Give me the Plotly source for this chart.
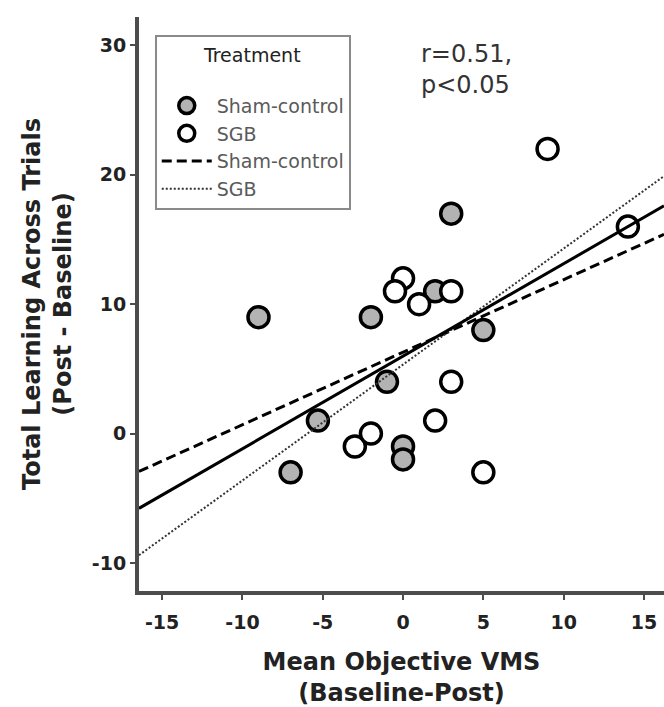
import plotly.graph_objects as go

# ---- data ----
sham_x = [-9, -2, -1, -5.3, -7, 2, 5, 3, 0, 0]
sham_y = [9, 9, 4, 1, -3, 11, 8, 17, -1, -2]
sgb_x = [0, -0.5, 3, 1, 3, 2, 5, 9, 14, -3, -2]
sgb_y = [12, 11, 11, 10, 4, 1, -3, 22, 16, -1, 0]

fit_x = [-16.44, 16.25]
fit_all_y = [-5.78, 17.6]
fit_sham_y = [-2.93, 15.4]
fit_sgb_y = [-9.4, 19.9]

x_ticks = [-15, -10, -5, 0, 5, 10, 15]
y_ticks = [-10, 0, 10, 20, 30]
x_range = [-16.44, 16.25]
y_range = [-12.17, 32.2]

FONT = "DejaVu Sans"
AX = "#4d4d4d"

fig = go.Figure()

fig.add_trace(go.Scatter(
    x=sham_x, y=sham_y, mode="markers", name="Sham-control",
    marker=dict(size=21, color="#b3b3b3", line=dict(color="black", width=3.5)),
))
fig.add_trace(go.Scatter(
    x=sgb_x, y=sgb_y, mode="markers", name="SGB",
    marker=dict(size=21, color="white", line=dict(color="black", width=3.5)),
))
fig.add_trace(go.Scatter(
    x=fit_x, y=fit_sham_y, mode="lines", name="Sham-control",
    line=dict(color="black", width=3, dash="10px,5px"),
))
fig.add_trace(go.Scatter(
    x=fit_x, y=fit_sgb_y, mode="lines", name="SGB",
    line=dict(color="#333", width=2, dash="2px,2px"),
))
fig.add_trace(go.Scatter(
    x=fit_x, y=fit_all_y, mode="lines", showlegend=False,
    line=dict(color="black", width=3),
))

fig.add_annotation(
    x=1.0, y=30.6, xref="x", yref="y", xanchor="left", yanchor="top",
    text="r=0.51,<br>p&lt;0.05", showarrow=False, align="left",
    font=dict(family=FONT, size=24, color="#333"),
)

fig.update_layout(
    width=664, height=707,
    margin=dict(l=139, r=0, t=17, b=116, autoexpand=False),
    plot_bgcolor="white", paper_bgcolor="white",
    font=dict(family=FONT, color="#222"),
    legend=dict(
        x=0.03, y=0.968, xanchor="left", yanchor="top",
        bgcolor="white", bordercolor="#8a8a8a", borderwidth=2,
        font=dict(family=FONT, size=19, color="#5a5a5a"),
        title=dict(text="Treatment<br>", side="top center",
                   font=dict(family=FONT, size=19, color="#222")),
        tracegroupgap=0, itemwidth=50,
    ),
    xaxis=dict(
        range=x_range, tickvals=x_ticks, ticktext=[str(v) for v in x_ticks],
        showgrid=False, zeroline=False, showline=True, linecolor=AX, linewidth=4,
        ticks="outside", ticklen=5, tickwidth=2, tickcolor=AX,
        ticklabelstandoff=6, automargin=False,
        tickfont=dict(family=FONT, size=19, color="#222", weight="bold"),
        title=dict(text="Mean Objective VMS<br>(Baseline-Post)", standoff=26,
                   font=dict(family=FONT, size=24, color="#222", weight="bold")),
    ),
    yaxis=dict(
        range=y_range, tickvals=y_ticks, ticktext=[str(v) for v in y_ticks],
        showgrid=False, zeroline=False, showline=True, linecolor=AX, linewidth=4,
        ticks="outside", ticklen=5, tickwidth=2, tickcolor=AX, automargin=False,
        tickfont=dict(family=FONT, size=19, color="#222", weight="bold"),
        title=dict(text="Total Learning Across Trials<br>(Post - Baseline)", standoff=14,
                   font=dict(family=FONT, size=24, color="#222", weight="bold")),
    ),
)

fig.write_html("out.html")
